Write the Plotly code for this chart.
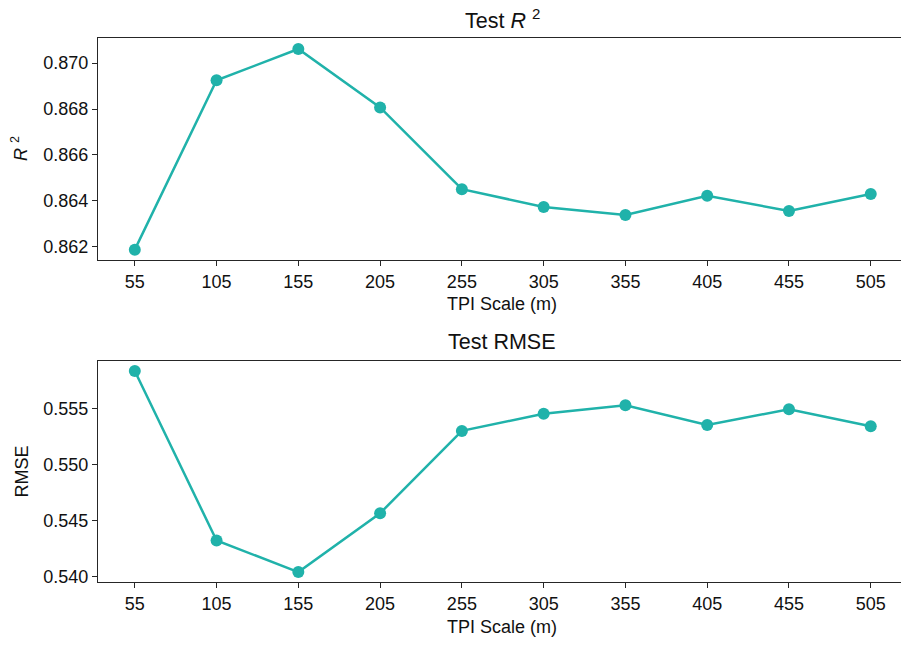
import plotly.graph_objects as go

tpi_scale = [55, 105, 155, 205, 255, 305, 355, 405, 455, 505]
test_r2 = [0.86188, 0.86925, 0.87061, 0.86807, 0.86451, 0.86374, 0.86339, 0.86423, 0.86356, 0.86430]
test_rmse = [0.55839, 0.54324, 0.54042, 0.54568, 0.55304, 0.55458, 0.55533, 0.55357, 0.55497, 0.55345]
r2_ticks = [0.862, 0.864, 0.866, 0.868, 0.870]
rmse_ticks = [0.540, 0.545, 0.550, 0.555]

COLOR = "#20B2AA"
FONT = "Liberation Sans, Arial, Helvetica, sans-serif"
AX = "#262626"

fig = go.Figure()
fig.add_trace(go.Scatter(x=tpi_scale, y=test_r2, mode="lines+markers",
                         line=dict(color=COLOR, width=2.5),
                         marker=dict(color=COLOR, size=12),
                         xaxis="x", yaxis="y", showlegend=False))
fig.add_trace(go.Scatter(x=tpi_scale, y=test_rmse, mode="lines+markers",
                         line=dict(color=COLOR, width=2.5),
                         marker=dict(color=COLOR, size=12),
                         xaxis="x2", yaxis="y2", showlegend=False))

xcommon = dict(range=[32.5, 523.5], tickvals=tpi_scale, showline=True, linecolor=AX,
               linewidth=1.3, mirror=True, ticks="outside", ticklen=5, tickwidth=1.2,
               tickcolor=AX, showgrid=False, zeroline=False,
               tickfont=dict(family=FONT, size=18, color="#111"))
ycommon = dict(showline=True, linecolor=AX, linewidth=1.3, mirror=False,
               ticks="outside", ticklen=5, tickwidth=1.2, tickcolor=AX,
               showgrid=False, zeroline=False,
               tickfont=dict(family=FONT, size=18, color="#111"))

fig.update_layout(
    width=901, height=645,
    margin=dict(l=98, r=0, t=38, b=63),
    plot_bgcolor="white", paper_bgcolor="white",
    xaxis=dict(domain=[0, 1], anchor="y", **xcommon),
    yaxis=dict(domain=[0.5919, 1], anchor="x", range=[0.86143, 0.87109],
               tickvals=r2_ticks, tickformat=".3f", **ycommon),
    xaxis2=dict(domain=[0, 1], anchor="y2", **xcommon),
    yaxis2=dict(domain=[0, 0.40625], anchor="x2", range=[0.53953, 0.55929],
                tickvals=rmse_ticks, tickformat=".3f", **ycommon),
)

ann_font = dict(family=FONT, size=18, color="#111")
title_font = dict(family=FONT, size=21.5, color="#111")
fig.update_layout(annotations=[
    dict(text="Test <i>R</i> <sup>2</sup>", x=0.5037, y=1.0349, xref="paper", yref="paper",
         xanchor="center", yanchor="middle", showarrow=False, font=title_font),
    dict(text="Test RMSE", x=0.5037, y=0.4403, xref="paper", yref="paper",
         xanchor="center", yanchor="middle", showarrow=False, font=title_font),
    dict(text="TPI Scale (m)", x=0.5037, y=0.511, xref="paper", yref="paper",
         xanchor="center", yanchor="middle", showarrow=False, font=ann_font),
    dict(text="TPI Scale (m)", x=0.5037, y=-0.0827, xref="paper", yref="paper",
         xanchor="center", yanchor="middle", showarrow=False, font=ann_font),
    dict(text="<i>R</i> <sup>2</sup>", x=-0.0971, y=0.796, xref="paper", yref="paper",
         xanchor="center", yanchor="middle", showarrow=False, textangle=-90, font=ann_font),
    dict(text="RMSE", x=-0.0946, y=0.203, xref="paper", yref="paper",
         xanchor="center", yanchor="middle", showarrow=False, textangle=-90, font=ann_font),
])

fig.write_html("out.html", config={"displayModeBar": False},
               post_script="document.body.style.margin='0';document.body.style.overflow='hidden';")
